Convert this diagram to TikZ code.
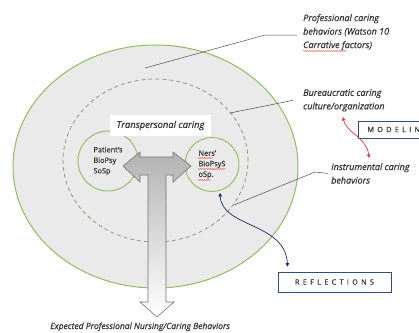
\documentclass[tikz,border=0pt]{standalone}
\usepackage{fontspec}
\setmainfont{Open Sans}[FakeBold=0.5]
\usetikzlibrary{arrows.meta,positioning,shapes.geometric,decorations.pathmorphing}

\definecolor{ringgreen}{RGB}{143,188,98}
\definecolor{ringfill}{RGB}{234,234,234}
\definecolor{dashgreen}{RGB}{128,148,108}
\definecolor{navyline}{RGB}{28,42,96}
\definecolor{boxblue}{RGB}{52,76,122}
\definecolor{redline}{RGB}{222,58,58}

\begin{document}
\begin{tikzpicture}[x=1pt,y=-1pt,
    label/.style={font=\fontsize{9}{13.5}\selectfont\itshape, text=black!80, align=left, anchor=north west, inner sep=0pt},
    leader/.style={draw=black!70, line width=0.5pt},
    core/.style={circle, draw=ringgreen, line width=0.9pt, fill=ringfill, inner sep=0pt, align=left, font=\fontsize{7.4}{10.5}\selectfont, text=black!80},
    spaced/.style={draw=boxblue, line width=0.8pt, fill=white, font=\fontsize{7.3}{8}\selectfont\addfontfeature{LetterSpace=45}, text=black!80},
    squiggle/.style={draw=red!80, line width=0.3pt, decorate, decoration={snake, amplitude=0.5pt, segment length=2pt}},
    tip/.style={line width=0.7pt, {Triangle[length=3.5pt,width=3.5pt]}-{Triangle[length=3.5pt,width=3.5pt]}}
]
\useasboundingbox (0,0) rectangle (419,332);
\clip (0,0) rectangle (419,332);

% rings
\node[ellipse, draw=ringgreen, fill=ringfill, line width=1pt, minimum width=285pt, minimum height=243pt, inner sep=0pt] (outer) at (155.5,166.5) {};
\node[ellipse, draw=dashgreen, dash pattern=on 4pt off 3pt, line width=0.7pt, minimum width=185pt, minimum height=163pt, inner sep=0pt] (mid) at (155.5,160.5) {};

% patient and nurse
\node[core, minimum size=60pt] (patient) at (108,161) {Patient's\\BioPsy\\SoSp};
\node[core, minimum size=54pt] (nurse) at (212,164.5) {Ners'\\BioPsyS\\oSp.};
\draw[squiggle] (198,158) -- (213,158);
\draw[squiggle] (198,169) -- (226,169);
\draw[squiggle] (198,180) -- (211,180);

\node[fill=white, minimum width=101pt, minimum height=21pt, inner sep=0pt, font=\fontsize{9.4}{10}\selectfont\itshape, text=black!80] (trans) at (160.5,125.5) {Transpersonal caring};

% T-shaped arrow
\shade[top color=black!30, bottom color=white, draw=black!55, line width=0.6pt]
  (123,166) -- (140,152) -- (140,157) -- (173,157) -- (173,152) -- (191,166)
  -- (173,182) -- (173,175) -- (166,175) -- (166,302) -- (174,302) -- (157,317)
  -- (140,302) -- (148,302) -- (148,175) -- (140,175) -- (140,182) -- cycle;

% side labels
\node[label] (prof) at (303,14) {Professional caring\\behaviors (Watson 10\\Carrative factors)};
\node[label] (bureau) at (303,89) {Bureaucratic caring\\culture/organization};
\node[label] (instr) at (331,163) {Instrumental caring\\behaviors};
\draw[squiggle] (303,51) -- (347,51);

\coordinate (profpt) at (145,68);
\coordinate (bureaupt) at (230,113);
\coordinate (instrpt) at (234,205);
\draw[leader] (profpt) -- (265,35) -- ([xshift=-6pt]prof.west |- 0,35);
\draw[leader] (bureaupt) -- ([xshift=-10pt]bureau.west);
\draw[leader] (instrpt) -- (315,172) -- ([xshift=-3pt]instr.west);

% boxes
\node[spaced, anchor=west, minimum height=17pt, inner xsep=9pt, align=left, text width=70pt] (model) at (358,129.5) {MODELIN};
\node[spaced, minimum width=113pt, minimum height=20pt] (refl) at (334.5,282) {REFLECTIONS};

\coordinate (redtop) at (343,117);
\coordinate (redbot) at (369,158);
\draw[tip, redline] (redtop) .. controls (346,132) and (367,138) .. (redbot);

\coordinate (nursept) at (220,193);
\draw[tip, navyline] (nursept) .. controls (222,228) and (285,222) .. ([xshift=10pt,yshift=5pt]refl.north west);

\node[font=\fontsize{8.5}{10}\selectfont\itshape, text=black!80, anchor=base west, inner sep=0pt] (expect) at (50,329) {Expected Professional Nursing/Caring Behaviors};
\end{tikzpicture}
\end{document}
